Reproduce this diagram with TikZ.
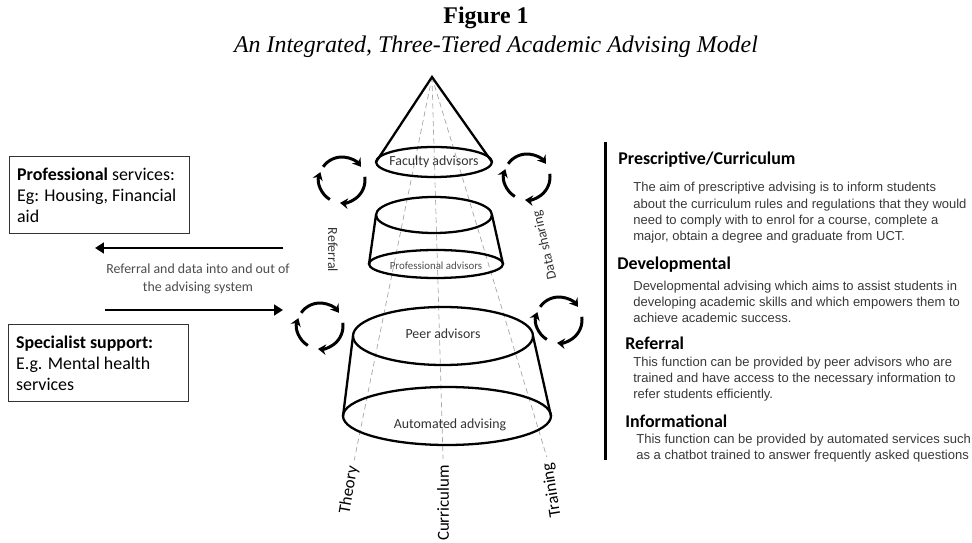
\documentclass[tikz,border=0pt]{standalone}
\usepackage{fontspec}
\setmainfont{Liberation Serif}
\newfontfamily\carlito{Carlito}
\newfontfamily\arialsans{Liberation Sans}
\usepackage{tikz}
\usetikzlibrary{arrows.meta, positioning, calc}

\definecolor{bodygray}{gray}{0.22}

\begin{document}
\begin{tikzpicture}[x=0.02cm, y=0.02cm,
  infobox/.style={draw=black!80, line width=0.7pt, align=flush left, text width=3.3cm,
    inner xsep=0.15cm, minimum height=1.54cm, font=\carlito\fontsize{10.2}{11.9}\selectfont},
  tierlabel/.style={font=\carlito\fontsize{7.9}{9}\selectfont, text=black!80},
  axislabel/.style={font=\carlito\fontsize{9.6}{11}\selectfont},
  guide/.style={gray!70, densely dashed, line width=0.4pt},
  tier/.style={line width=1.3pt},
  flow/.style={-{Triangle[length=5pt,width=6pt]}, line width=1.7pt},
  loop/.style={-{Stealth[length=4.5pt,width=6pt]}, line width=1.7pt},
  heading/.style={font=\carlito\bfseries\fontsize{10.2}{12}\selectfont, anchor=west, inner sep=0},
  bodytext/.style={font=\arialsans\fontsize{7.4}{9.3}\selectfont, text=bodygray,
    align=left, anchor=west, inner sep=0}]
\useasboundingbox (0,0) rectangle (972,-543);

% Title
\node[font=\bfseries\fontsize{13.6}{16}\selectfont] (fig) at (486,-18) {Figure 1};
\node[font=\itshape\fontsize{13.6}{16}\selectfont] (caption) at (496,-47)
  {An Integrated, Three-Tiered Academic Advising Model};

% Guide lines from the apex down to the three pillars
\coordinate (apex) at (432,-77);
\node[axislabel, rotate=80] (theory) at (349,-490) {Theory};
\node[axislabel, rotate=90] (curric) at (443,-503) {Curriculum};
\node[axislabel, rotate=99] (train) at (552,-490) {Training};
\foreach \n in {theory, curric, train}
  \draw[guide] (apex) -- (\n.east);

% Top tier: cone
\draw[tier] (376,-162) -- (apex) -- (492,-162);
\draw[tier] (434,-162) ellipse [x radius=58, y radius=15];
\node[tierlabel] (fac) at (434,-162) {Faculty advisors};

% Middle tier
\draw[tier] (434,-215) ellipse [x radius=58, y radius=18];
\draw[tier] (436,-264) ellipse [x radius=67, y radius=14];
\draw[tier] (376,-215) -- (369,-264) (492,-215) -- (503,-264);
\node[tierlabel, font=\carlito\fontsize{6.2}{7}\selectfont, text=black!70] (pro) at (436,-266) {Professional advisors};

% Bottom tier
\draw[tier] (443,-336) ellipse [x radius=90, y radius=29];
\draw[tier] (447,-416) ellipse [x radius=104, y radius=29];
\draw[tier] (353,-336) -- (343,-416) (533,-336) -- (551,-416);
\node[tierlabel] (peer) at (443,-334) {Peer advisors};
\node[tierlabel] (auto) at (450,-425) {Automated advising};

% Cycle symbols
\foreach \cx/\cy in {342/180, 527/177, 320/326, 559/320} {
  \begin{scope}[shift={(\cx,-\cy)}]
    \draw[loop] (145:23) arc (145:35:23);
    \draw[loop] (8:23) arc (8:-95:23);
    \draw[loop] (-122:23) arc (-122:-200:23);
  \end{scope}
}
\node[tierlabel, rotate=-90] (referral) at (333,-250) {Referral};
\node[tierlabel, rotate=103] (datashare) at (545,-245) {Data sharing};

% External services
\node[infobox, anchor=south west] (profsvc) at (9,-234)
  {\textbf{Professional} services:\\Eg: Housing, Financial\\aid};
\node[infobox, anchor=north west] (specialist) at (8,-324)
  {\textbf{Specialist support:}\\E.g. Mental health\\services};
\coordinate (outstart) at (283,-248);
\coordinate (outend) at (95,-248);
\coordinate (instart) at (105,-310);
\coordinate (inend) at (283,-310);
\draw[flow] (outstart) -- (outend);
\draw[flow] (instart) -- (inend);
\node[font=\carlito\fontsize{7.9}{10.2}\selectfont, text=black!70, align=center] (exchange)
  at (198,-279) {Referral and data into and out of\\the advising system};

% Functions of advising
\draw[line width=1.7pt] (605,-142) -- (605,-460);
\node[heading] (h1) at (618,-160) {Prescriptive/Curriculum};
\node[bodytext] (b1) at (633,-213) {The aim of prescriptive advising is to inform students\\
  about the curriculum rules and regulations that they would\\
  need to comply with to enrol for a course, complete a\\
  major, obtain a degree and graduate from UCT.};
\node[heading] (h2) at (617,-265) {Developmental};
\node[bodytext] (b2) at (633,-302) {Developmental advising which aims to assist students in\\
  developing academic skills and which empowers them to\\
  achieve academic success.};
\node[heading] (h3) at (625,-343) {Referral};
\node[bodytext] (b3) at (633,-379) {This function can be provided by peer advisors who are\\
  trained and have access to the necessary information to\\
  refer students efficiently.};
\node[heading] (h4) at (625,-421) {Informational};
\node[bodytext] (b4) at (636,-448) {This function can be provided by automated services such\\
  as a chatbot trained to answer frequently asked questions};
\end{tikzpicture}
\end{document}
